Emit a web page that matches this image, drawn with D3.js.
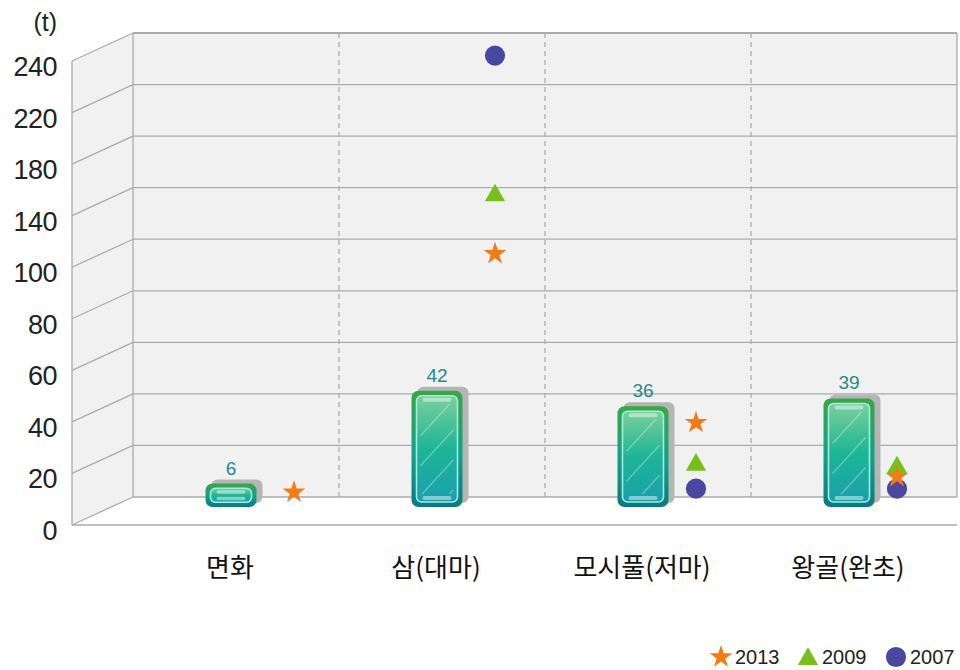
<!DOCTYPE html>
<html>
<head>
<meta charset="utf-8">
<script src="https://cdn.jsdelivr.net/npm/d3@7"></script>
<style>
  body { margin: 0; background: #fff; }
  svg { display: block; }
</style>
</head>
<body>
<div id="chartDiv"></div>
<script>
// chart data
let categories = ['면화', '삼(대마)', '모시풀(저마)', '왕골(완초)'];
let barValues = [6, 42, 36, 39];
let tickLabels = [0, 20, 40, 60, 80, 100, 140, 180, 220, 240];
let years = ['2013', '2009', '2007'];
let values2013 = [10, 105, 37, 16];
let values2009 = [null, 151, 21, 20];
let values2007 = [null, 239, 11, 11];

let width = 960, height = 670;
let wall = {left: 133, right: 957, top: 33, bottom: 497};
let depth = {dx: 61, dy: 28};

let svg = d3.select('#chartDiv')
    .append('svg')
    .attr('width', width)
    .attr('height', height);

// tick labels are equally spaced, so map values piecewise onto their index
let idxScale = d3.scaleLinear()
    .domain(tickLabels)
    .range(tickLabels.map(function(d, i) {return i}));
let yScale = function(v) {
    let step = (wall.bottom - wall.top) / (tickLabels.length - 1);
    return wall.bottom - idxScale(v) * step;
};

let xScale = d3.scaleBand()
    .domain(categories)
    .range([wall.left, wall.right]);

// markers sit a bit in front of the wall, so their spacing is slightly narrower
let markerScale = d3.scalePoint()
    .domain(categories)
    .range([294, 897]);

// walls
svg.append('rect')
    .attr('x', wall.left).attr('y', wall.top)
    .attr('width', wall.right - wall.left)
    .attr('height', wall.bottom - wall.top)
    .attr('fill', '#f1f1f1');

svg.append('polygon')
    .attr('points', [
        [wall.left - depth.dx, wall.top + depth.dy],
        [wall.left, wall.top],
        [wall.left, wall.bottom],
        [wall.left - depth.dx, wall.bottom + depth.dy]].join(' '))
    .attr('fill', '#f1f1f1');

let grid = svg.append('g').attr('stroke', '#ababab').attr('stroke-width', 1.3);

tickLabels.forEach(function(t) {
    let y = yScale(t);
    grid.append('line')
        .attr('x1', wall.left).attr('x2', wall.right)
        .attr('y1', y).attr('y2', y);
    grid.append('line')
        .attr('x1', wall.left - depth.dx).attr('x2', wall.left)
        .attr('y1', y + depth.dy).attr('y2', y);
});

grid.append('line')
    .attr('x1', wall.left).attr('x2', wall.left)
    .attr('y1', wall.top).attr('y2', wall.bottom);
grid.append('line')
    .attr('x1', wall.right).attr('x2', wall.right)
    .attr('y1', wall.top).attr('y2', wall.bottom);
grid.append('line')
    .attr('x1', wall.left - depth.dx).attr('x2', wall.left - depth.dx)
    .attr('y1', wall.top + depth.dy).attr('y2', wall.bottom + depth.dy);
grid.append('line')
    .attr('x1', wall.left - depth.dx).attr('x2', wall.right)
    .attr('y1', wall.bottom + depth.dy).attr('y2', wall.bottom + depth.dy);
grid.append('line')
    .attr('x1', wall.left).attr('x2', wall.right)
    .attr('y1', wall.top).attr('y2', wall.top)
    .attr('stroke-width', 2);

// dashed separators between categories
categories.slice(1).forEach(function(c) {
    grid.append('line')
        .attr('x1', xScale(c)).attr('x2', xScale(c))
        .attr('y1', wall.top).attr('y2', wall.bottom)
        .attr('stroke', '#a8a8a8')
        .attr('stroke-width', 1.2)
        .attr('stroke-dasharray', '5,4');
});

// y tick labels
svg.append('g')
    .selectAll('text')
    .data(tickLabels)
    .enter()
    .append('text')
    .attr('x', 57)
    .attr('y', function(d) {return yScale(d) + depth.dy + 15})
    .attr('text-anchor', 'end')
    .attr('font-family', 'Liberation Sans, Arial, sans-serif')
    .attr('font-size', 27)
    .attr('letter-spacing', -0.5)
    .attr('fill', '#222')
    .text(function(d) {return d});

svg.append('text')
    .attr('x', 57).attr('y', 31)
    .attr('text-anchor', 'end')
    .attr('font-family', 'Liberation Sans, Arial, sans-serif')
    .attr('font-size', 25)
    .attr('fill', '#222')
    .text('(t)');

// bar gradients
let defs = svg.append('defs');
let outerGrad = defs.append('linearGradient').attr('id', 'outerGrad')
    .attr('x1', 0).attr('y1', 0).attr('x2', 0).attr('y2', 1);
outerGrad.append('stop').attr('offset', '0%').attr('stop-color', '#3aa646');
outerGrad.append('stop').attr('offset', '55%').attr('stop-color', '#13a08a');
outerGrad.append('stop').attr('offset', '100%').attr('stop-color', '#097a82');

let innerGrad = defs.append('linearGradient').attr('id', 'innerGrad')
    .attr('x1', 0).attr('y1', 0).attr('x2', 0).attr('y2', 1);
innerGrad.append('stop').attr('offset', '0%').attr('stop-color', '#7ccf9c');
innerGrad.append('stop').attr('offset', '50%').attr('stop-color', '#1db596');
innerGrad.append('stop').attr('offset', '100%').attr('stop-color', '#1a9fae');

// bars
let barW = 51, barOffset = 10, barShift = -5;
let bars = svg.append('g');

barValues.forEach(function(v, i) {
    let c = categories[i];
    let x = xScale(c) + xScale.bandwidth() / 2 + barShift - barW / 2;
    let yBottom = yScale(0) + barOffset;
    let yTop = yScale(v) + barOffset - 8;
    let h = yBottom - yTop;
    let g = bars.append('g');

    g.append('rect')
        .attr('x', x + 6).attr('y', yTop - 4)
        .attr('width', barW).attr('height', h)
        .attr('rx', 6)
        .attr('fill', '#b4b6b6');
    g.append('rect')
        .attr('x', x).attr('y', yTop)
        .attr('width', barW).attr('height', h)
        .attr('rx', 7)
        .attr('fill', 'url(#outerGrad)');

    let inset = Math.min(5, h / 5);
    let ix = x + 5, iy = yTop + inset, iw = barW - 10, ih = h - inset * 2;
    g.append('rect')
        .attr('x', ix).attr('y', iy)
        .attr('width', iw).attr('height', ih)
        .attr('rx', Math.min(5, ih / 2))
        .attr('fill', 'url(#innerGrad)')
        .attr('stroke', '#a6ece0')
        .attr('stroke-width', 1.6);

    // glossy highlights
    let pillH = Math.min(4, ih / 4);
    g.append('rect')
        .attr('x', ix + 6).attr('y', iy + 2)
        .attr('width', iw - 12).attr('height', pillH)
        .attr('rx', pillH / 2)
        .attr('fill', '#fff').attr('opacity', 0.45);
    g.append('rect')
        .attr('x', ix + 6).attr('y', iy + ih - 2 - pillH)
        .attr('width', iw - 12).attr('height', pillH)
        .attr('rx', pillH / 2)
        .attr('fill', '#fff').attr('opacity', 0.45);

    let clipId = 'clip' + i;
    defs.append('clipPath').attr('id', clipId)
        .append('rect')
        .attr('x', ix + 3).attr('y', iy + 8)
        .attr('width', iw - 6).attr('height', Math.max(0, ih - 16));
    let gloss = g.append('g').attr('clip-path', 'url(#' + clipId + ')');
    for (let k = 0; k * 30 < ih + 40; k++) {
        let yy = iy + 40 + k * 30;
        gloss.append('line')
            .attr('x1', ix + 4).attr('y1', yy)
            .attr('x2', ix + iw - 4).attr('y2', yy - 36)
            .attr('stroke', '#fff').attr('stroke-opacity', 0.3)
            .attr('stroke-width', 1.5);
    }

    // value label
    svg.append('text')
        .attr('x', x + barW / 2)
        .attr('y', yTop - 9)
        .attr('text-anchor', 'middle')
        .attr('font-family', 'Liberation Sans, Arial, sans-serif')
        .attr('font-size', 19)
        .attr('fill', '#268a8a')
        .text(v);
});

// year markers
let markerColors = {'2013': '#f47a14', '2009': '#78bf1c', '2007': '#4a47a0'};
let markerSymbols = {'2013': d3.symbolStar, '2009': d3.symbolTriangle, '2007': d3.symbolCircle};
let markerSizes = {'2013': 160, '2009': 180, '2007': 320};
let series = [values2007, values2009, values2013];
let seriesYears = ['2007', '2009', '2013'];
let markerOffset = 20;

series.forEach(function(vals, s) {
    let yr = seriesYears[s];
    let pts = vals.map(function(v, i) {return {v: v, c: categories[i]}})
        .filter(function(d) {return d.v !== null});
    svg.append('g')
        .selectAll('path')
        .data(pts)
        .enter()
        .append('path')
        .attr('d', d3.symbol().type(markerSymbols[yr]).size(markerSizes[yr]))
        .attr('transform', function(d) {
            let dy = yr === '2009' ? 2 : (yr === '2013' ? 1 : 0);
            return 'translate(' + markerScale(d.c) + ',' + (yScale(d.v) + markerOffset + dy) + ')';
        })
        .attr('fill', markerColors[yr]);
});

// category labels
svg.append('g')
    .selectAll('text')
    .data(categories)
    .enter()
    .append('text')
    .attr('x', function(d) {return xScale(d) + xScale.bandwidth() / 2 - 6})
    .attr('y', 577)
    .attr('text-anchor', 'middle')
    .attr('font-family', 'Noto Sans CJK KR, sans-serif')
    .attr('font-size', 26)
    .attr('fill', '#111')
    .text(function(d) {return d});

// legend
let legendPos = [{yr: '2013', x: 721}, {yr: '2009', x: 808}, {yr: '2007', x: 896}];
let legend = svg.append('g');
legendPos.forEach(function(d) {
    legend.append('path')
        .attr('d', d3.symbol().type(markerSymbols[d.yr]).size(markerSizes[d.yr]))
        .attr('transform', 'translate(' + d.x + ',' + (d.yr === '2009' ? 659 : 657) + ')')
        .attr('fill', markerColors[d.yr]);
    legend.append('text')
        .attr('x', d.x + 14)
        .attr('y', 664)
        .attr('font-family', 'Liberation Sans, Arial, sans-serif')
        .attr('font-size', 20)
        .attr('fill', '#222')
        .text(d.yr);
});
</script>
</body>
</html>
